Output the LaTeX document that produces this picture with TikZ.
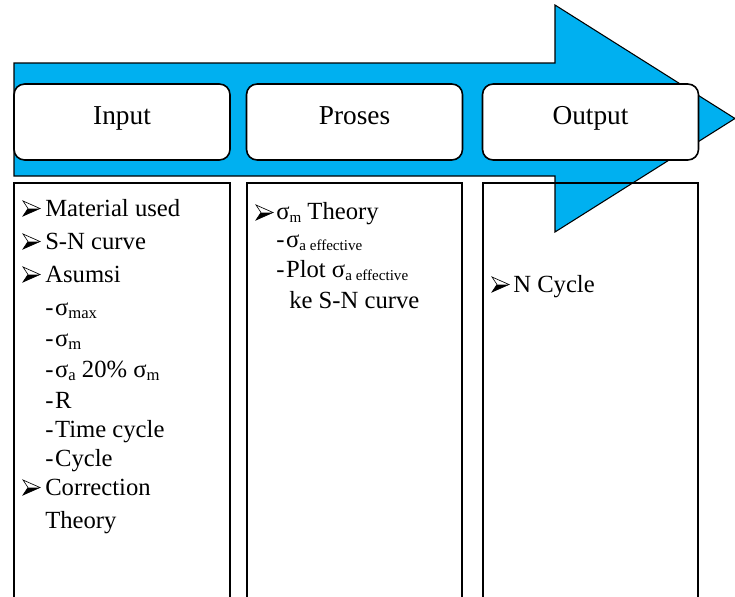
\documentclass[tikz,border=0pt]{standalone}
\usepackage{fontspec}
\setmainfont{Liberation Serif}
\definecolor{arrowblue}{RGB}{0,176,240}
\newcommand{\sbs}[1]{\raisebox{-0.35ex}{\fontsize{12.5}{12.5}\selectfont #1}}
\newcommand{\sbss}[1]{\raisebox{-0.35ex}{\fontsize{11.3}{11.3}\selectfont #1}}
\newcommand{\dsh}{-\kern1.2pt}
\begin{document}
\begin{tikzpicture}[x=0.75pt,y=-0.75pt,
  headbox/.style={draw, line width=1.2pt, fill=white, rounded corners=8pt,
    minimum width=162pt, minimum height=57pt, inner sep=0pt,
    text height=8pt, text depth=5pt,
    font=\fontsize{20.5}{24}\selectfont},
  txt/.style={anchor=base west, inner sep=0pt, font=\fontsize{18.5}{22}\selectfont},
  colbox/.style={line width=1.1pt},
  arrowbullet/.pic={
    \fill (17,-7.5) -- (0,0) -- (5,-7.5) -- cycle;
    \draw[line width=0.5pt, line join=miter] (0,-15) -- (17,-7.5) -- (0,0) -- (5,-7.5) -- cycle;
  }]
\useasboundingbox (0,0) rectangle (735,596);
% big arrow
\draw[fill=arrowblue, line width=0.8pt] (14,63) -- (555,63) -- (555,5) -- (735,118.5)
  -- (555,232) -- (555,176) -- (14,176) -- cycle;
% header boxes
\node[headbox] (input) at (122,122) {Input};
\node[headbox] (proses) at (354.5,122) {Proses};
\node[headbox] (output) at (590.5,122) {Output};
% column boxes
\draw[colbox] (14,600) -- (14,183) -- (230,183) -- (230,600);
\draw[colbox] (247,600) -- (247,183) -- (462,183) -- (462,600);
\draw[colbox] (483,600) -- (483,183) -- (698,183) -- (698,600);
% Input column
\pic at (23,216) {arrowbullet};
\node[txt] (i1) at (45,216) {Material used};
\pic at (23,249) {arrowbullet};
\node[txt] (i2) at (45,249) {S-N curve};
\pic at (23,282) {arrowbullet};
\node[txt] (i3) at (45,282) {Asumsi};
\node[txt] (i4) at (45,315) {\dsh σ\sbs{max}};
\node[txt] (i5) at (45,346) {\dsh σ\sbs{m}};
\node[txt] (i6) at (45,377) {\dsh σ\sbs{a} 20\% σ\sbs{m}};
\node[txt] (i7) at (45,408) {\dsh R};
\node[txt] (i8) at (45,437) {\dsh Time cycle};
\node[txt] (i9) at (45,466) {\dsh Cycle};
\pic at (23,495) {arrowbullet};
\node[txt] (i10) at (45,495) {Correction};
\node[txt] (i11) at (45,528) {Theory};
% Proses column
\pic at (256,220) {arrowbullet};
\node[txt] (p1) at (276,219) {σ\sbss{m} Theory};
\node[txt] (p2) at (276,247) {\dsh σ\sbss{a effective}};
\node[txt] (p3) at (276,277) {\dsh Plot σ\sbss{a effective}};
\node[txt] (p4) at (289,308) {ke S-N curve};
% Output column
\pic at (492,292) {arrowbullet};
\node[txt] (o1) at (513,292) {N Cycle};
\end{tikzpicture}
\end{document}
